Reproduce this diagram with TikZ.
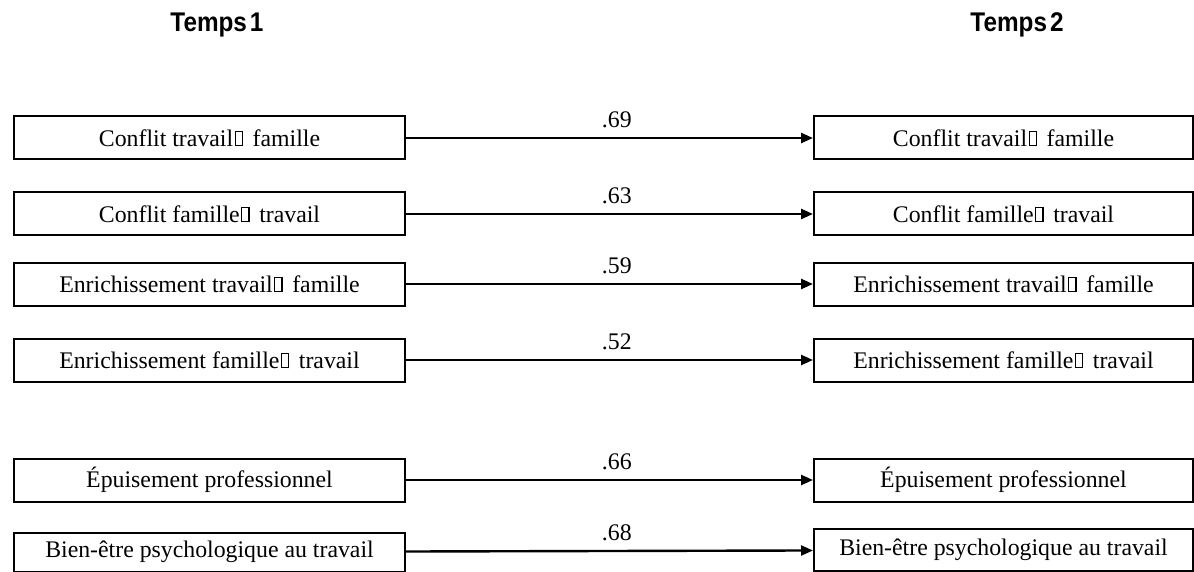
\documentclass[tikz,border=0pt]{standalone}
\usepackage{fontspec}
\setmainfont{Liberation Serif}
\newfontfamily\headfont[FakeStretch=0.9]{Liberation Sans}
\usetikzlibrary{arrows.meta}
\newcommand\tofu{\kern0.06em\hbox{\vrule width 0.045em\vbox{\hrule height 0.045em\hbox to 0.26em{}\vskip 0.55em\hrule height 0.045em}\vrule width 0.045em}\kern0.06em}
\begin{document}
\begin{tikzpicture}[x=1pt,y=-1pt,
  box/.style={draw, line width=2pt, minimum width=391pt, minimum height=43pt, inner sep=0pt, font=\fontsize{23.8}{28}\selectfont},
  rbox/.style={box, minimum width=379pt},
  arr/.style={line width=2.4pt, -{Triangle[length=12pt,width=10pt]}},
  lbl/.style={pos=0.518, anchor=base, yshift=10.5pt, font=\fontsize{23.8}{28}\selectfont, inner sep=0pt},
  head/.style={font=\headfont\bfseries\fontsize{27}{31}\selectfont, inner sep=0pt, anchor=base}]
\useasboundingbox (0,0) rectangle (1194,572);

\node[head] (h1) at (217,32) {Temps\hspace{3pt}1};
\node[head] (h2) at (1017,32) {Temps\hspace{3pt}2};

\node[box] (l1) at (209.5,138) {Conflit travail\tofu\hspace{0.35em}famille};
\node[rbox] (r1) at (1003.5,138) {Conflit travail\tofu\hspace{0.35em}famille};
\node[box] (l2) at (209.5,214) {Conflit famille\tofu\hspace{0.35em}travail};
\node[rbox] (r2) at (1003.5,214) {Conflit famille\tofu\hspace{0.35em}travail};
\node[box] (l3) at (209.5,284) {Enrichissement travail\tofu\hspace{0.35em}famille};
\node[rbox] (r3) at (1003.5,284) {Enrichissement travail\tofu\hspace{0.35em}famille};
\node[box] (l4) at (209.5,360) {Enrichissement famille\tofu\hspace{0.35em}travail};
\node[rbox] (r4) at (1003.5,360) {Enrichissement famille\tofu\hspace{0.35em}travail};
\node[box] (l5) at (209.5,480) {Épuisement professionnel};
\node[rbox] (r5) at (1003.5,480) {Épuisement professionnel};
\node[box, minimum height=39pt] (l6) at (209.5,552) {Bien-être psychologique au travail};
\node[rbox, minimum height=42pt] (r6) at (1003.5,550) {Bien-être psychologique au travail};

\draw[arr] (l1) -- node[lbl] {.69} (r1);
\draw[arr] (l2) -- node[lbl] {.63} (r2);
\draw[arr] (l3) -- node[lbl] {.59} (r3);
\draw[arr] (l4) -- node[lbl] {.52} (r4);
\draw[arr] (l5) -- node[lbl] {.66} (r5);
\draw[arr] (l6) -- node[lbl] {.68} (r6);
\end{tikzpicture}
\end{document}
